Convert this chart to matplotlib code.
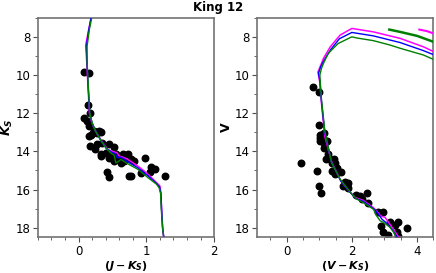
import matplotlib
matplotlib.use("Agg")
import matplotlib.pyplot as plt
from matplotlib.ticker import MultipleLocator

plt.rcParams["mathtext.fontset"] = "custom"
plt.rcParams["mathtext.it"] = "DejaVu Sans:bold:italic"
plt.rcParams["mathtext.rm"] = "DejaVu Sans:bold"

# cluster members: (J-Ks, Ks)
jk = [0.075, 0.16, 0.135, 0.175, 0.085, 0.125, 0.15, 0.225, 0.30, 0.185, 0.15,
      0.215, 0.275, 0.325, 0.165, 0.235, 0.35, 0.45, 0.525, 0.325, 0.40, 0.475,
      0.525, 0.65, 0.725, 0.775, 0.825, 0.675, 0.975, 0.425, 0.45, 0.775, 0.925,
      1.075, 1.125, 1.05, 1.275, 0.625, 0.60, 0.275, 0.325, 0.45, 0.55, 0.75]
ks = [9.85, 9.91, 11.58, 12.0, 12.25, 12.43, 12.69, 12.95, 12.95, 13.12, 13.2,
      13.03, 13.03, 13.0, 13.72, 13.86, 13.55, 13.64, 13.76, 14.16, 14.07, 14.25,
      14.51, 14.16, 14.16, 14.42, 14.51, 14.51, 14.35, 15.08, 15.32, 15.29, 15.11,
      14.8, 14.92, 15.08, 15.29, 14.6, 14.38, 13.64, 14.25, 14.33, 14.16, 15.29]

# cluster members: (V-Ks, V)
vk = [0.80, 1.00, 0.98, 1.07, 1.15, 1.03, 1.21, 1.15, 1.02, 1.15, 1.25, 1.22,
      1.33, 1.46, 1.28, 1.38, 1.48, 1.38, 1.48, 1.58, 1.68, 1.53, 1.80, 1.74,
      1.87, 1.89, 1.84, 0.43, 0.92, 0.99, 1.07, 2.14, 2.25, 2.46, 2.30, 2.51,
      2.81, 2.97, 3.17, 3.43, 3.32, 3.68, 2.97, 3.38, 3.43, 3.11, 2.88, 1.02]
vv = [10.64, 10.89, 12.6, 13.12, 13.03, 13.45, 13.47, 13.81, 13.12, 13.55, 13.47,
      14.38, 14.38, 14.38, 14.16, 14.6, 14.6, 15.03, 15.2, 15.08, 15.08, 14.86,
      15.6, 15.81, 15.9, 15.64, 15.81, 14.6, 15.03, 15.84, 16.16, 16.3, 16.33,
      16.19, 16.5, 16.68, 17.2, 17.2, 17.72, 17.69, 17.86, 18.03, 18.24, 18.21,
      18.42, 18.38, 17.9, 13.29]

# isochrones, left panel
l_mag_x = [0.19, 0.145, 0.105, 0.12, 0.13, 0.145, 0.16, 0.195, 0.245, 0.33, 0.425,
           0.50, 0.57, 0.60, 0.65, 0.725, 0.875, 1.025, 1.15, 1.20, 1.215, 1.225, 1.24, 1.26]
l_mag_y = [6.9, 7.7, 8.45, 9.3, 10.0, 11.0, 12.0, 12.5, 12.9, 13.4, 13.9,
           14.0, 14.08, 14.25, 14.3, 14.42, 14.77, 15.2, 15.64, 15.81, 16.2, 17.0, 18.0, 18.6]
l_blu_x = [0.19, 0.15, 0.115, 0.125, 0.133, 0.148, 0.163, 0.198, 0.248, 0.33, 0.41,
           0.49, 0.54, 0.575, 0.61, 0.66, 0.71, 0.875, 1.025, 1.15, 1.195, 1.215, 1.225, 1.24, 1.26]
l_blu_y = [6.9, 7.65, 8.5, 9.3, 10.0, 11.0, 12.0, 12.5, 12.92, 13.43, 13.85,
           14.05, 14.12, 14.35, 14.3, 14.38, 14.52, 14.86, 15.29, 15.68, 15.87, 16.2, 17.0, 18.0, 18.6]
l_grn_x = [0.20, 0.16, 0.125, 0.125, 0.135, 0.15, 0.165, 0.20, 0.25, 0.33, 0.40,
           0.48, 0.525, 0.55, 0.58, 0.625, 0.70, 0.875, 1.025, 1.15, 1.19, 1.21, 1.22, 1.24, 1.26]
l_grn_y = [6.9, 7.6, 8.5, 9.3, 10.0, 11.0, 12.0, 12.5, 12.94, 13.45, 13.81,
           14.1, 14.2, 14.6, 14.55, 14.42, 14.6, 14.94, 15.38, 15.72, 15.92, 16.2, 17.0, 18.0, 18.6]

# isochrones, right panel
r_mag_x = [3.48, 3.22, 3.02, 2.88, 2.81, 2.66, 2.35, 2.10, 1.90, 1.68, 1.38, 1.17,
           1.07, 1.02, 0.96, 1.02, 1.13, 1.34, 1.64, 2.0, 2.66, 3.48, 4.19, 4.6]
r_mag_y = [18.6, 17.95, 17.46, 17.38, 17.22, 16.95, 16.57, 16.42, 16.05, 15.6, 14.55, 13.2,
           11.5, 10.4, 9.85, 9.6, 9.13, 8.52, 7.91, 7.56, 7.74, 8.08, 8.52, 8.85]
r_blu_x = [3.42, 3.26, 3.08, 2.92, 2.84, 2.70, 2.35, 2.12, 1.95, 1.66, 1.38, 1.17,
           1.07, 1.02, 0.98, 1.05, 1.16, 1.36, 1.62, 2.0, 2.66, 3.48, 4.19, 4.6]
r_blu_y = [18.6, 18.15, 17.78, 17.55, 17.35, 17.05, 16.62, 16.47, 16.15, 15.55, 14.58, 13.0,
           11.4, 10.3, 9.9, 9.55, 9.2, 8.65, 8.1, 7.77, 7.95, 8.3, 8.72, 9.0]
r_grn_x = [3.37, 3.32, 3.17, 2.97, 2.87, 2.76, 2.66, 2.35, 2.15, 2.0, 1.64, 1.38,
           1.17, 1.07, 1.03, 1.02, 1.07, 1.13, 1.275, 1.58, 2.0, 2.15, 2.66, 3.17,
           3.48, 4.19, 4.5, 4.6]
r_grn_y = [18.6, 18.33, 17.98, 17.72, 17.64, 17.38, 17.03, 16.68, 16.5, 16.24, 15.46, 14.6,
           12.9, 11.3, 10.3, 10.0, 9.65, 9.39, 8.87, 8.35, 8.0, 8.06, 8.2, 8.43,
           8.6, 8.95, 9.18, 9.25]
r_grn2_x = [3.15, 3.5, 4.0, 4.5, 4.6]
r_grn2_y = [7.62, 7.75, 7.95, 8.26, 8.32]
r_mag2_x = [4.07, 4.3, 4.5, 4.6]
r_mag2_y = [7.62, 7.7, 7.82, 7.88]

fig = plt.figure(figsize=(4.36, 2.73), dpi=100)
ax1 = fig.add_axes([0.087, 0.131, 0.404, 0.804])
ax2 = fig.add_axes([0.590, 0.131, 0.404, 0.804])

ax1.scatter(jk, ks, s=22, color="black", zorder=2)
ax1.plot(l_mag_x, l_mag_y, color="magenta", lw=1.1, zorder=3)
ax1.plot(l_blu_x, l_blu_y, color="blue", lw=1.0, zorder=3)
ax1.plot(l_grn_x, l_grn_y, color="green", lw=1.0, zorder=3)

ax2.scatter(vk, vv, s=22, color="black", zorder=2)
ax2.plot(r_mag_x, r_mag_y, color="magenta", lw=1.1, zorder=3)
ax2.plot(r_blu_x, r_blu_y, color="blue", lw=1.0, zorder=3)
ax2.plot(r_grn_x, r_grn_y, color="green", lw=1.0, zorder=3)
ax2.plot(r_grn2_x, r_grn2_y, color="green", lw=1.8, zorder=3)
ax2.plot(r_mag2_x, r_mag2_y, color="magenta", lw=1.5, zorder=3)

ax1.set_xlim(-0.6, 2.0)
ax2.set_xlim(-0.9, 4.5)
for ax in (ax1, ax2):
    ax.set_ylim(18.5, 7)
    ax.yaxis.set_major_locator(MultipleLocator(2))
    ax.yaxis.set_minor_locator(MultipleLocator(1))
    ax.tick_params(labelsize=8.5, length=3.5, width=0.8, color="0.3", pad=2)
    ax.tick_params(which="minor", length=2, width=0.6, color="0.3")
    for sp in ax.spines.values():
        sp.set_color("0.45")
        sp.set_linewidth(1.2)
ax1.xaxis.set_major_locator(MultipleLocator(1))
ax1.xaxis.set_minor_locator(MultipleLocator(0.2))
ax2.xaxis.set_major_locator(MultipleLocator(2))
ax2.xaxis.set_minor_locator(MultipleLocator(0.5))

ax1.set_xlabel(r"$(J-K_S)$", fontsize=8, labelpad=0.5)
ax2.set_xlabel(r"$(V-K_S)$", fontsize=8, labelpad=0.5)
ax1.set_ylabel(r"$K_S$", fontsize=9, labelpad=0)
ax2.set_ylabel("V", fontsize=9, fontweight="bold", labelpad=1)

fig.suptitle("King 12", fontsize=8.5, fontweight="bold", x=0.5, y=0.995)

fig.savefig("out.png", dpi=100)
